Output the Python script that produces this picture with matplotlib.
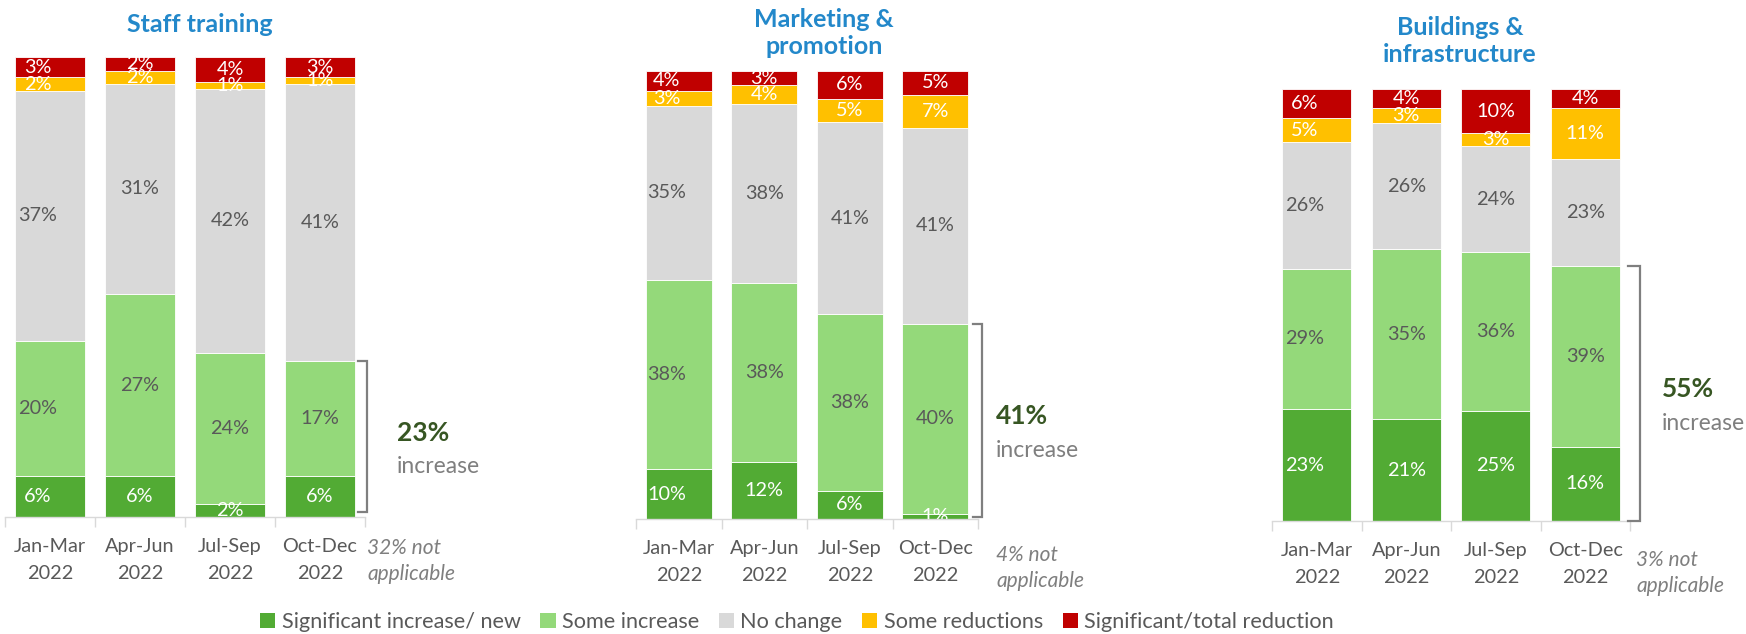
import matplotlib
matplotlib.use("Agg")
import matplotlib.pyplot as plt
from matplotlib.patches import Patch
import numpy as np

plt.rcParams['font.family'] = ['Lato', 'DejaVu Sans']

# ---- data -------------------------------------------------------------
periods = ["Jan-Mar\n2022", "Apr-Jun\n2022", "Jul-Sep\n2022", "Oct-Dec\n2022"]
categories = ["Significant increase/ new", "Some increase", "No change",
              "Some reductions", "Significant/total reduction"]
panel_titles = ["Staff training", "Marketing &\npromotion", "Buildings &\ninfrastructure"]
not_applicable = [32, 4, 3]

staff_sig_increase = [6, 6, 2, 6]
staff_some_increase = [20, 27, 24, 17]
staff_no_change = [37, 31, 42, 41]
staff_some_reduction = [2, 2, 1, 1]
staff_sig_reduction = [3, 2, 4, 3]

marketing_sig_increase = [10, 12, 6, 1]
marketing_some_increase = [38, 38, 38, 40]
marketing_no_change = [35, 38, 41, 41]
marketing_some_reduction = [3, 4, 5, 7]
marketing_sig_reduction = [4, 3, 6, 5]

buildings_sig_increase = [23, 21, 25, 16]
buildings_some_increase = [29, 35, 36, 39]
buildings_no_change = [26, 26, 24, 23]
buildings_some_reduction = [5, 3, 3, 11]
buildings_sig_reduction = [6, 4, 10, 4]

# ---- styling ----------------------------------------------------------
colors = ["#52AB34", "#94D97A", "#D9D9D9", "#FFC000", "#C00000"]
label_colors = ["white", "#595959", "#595959", "white", "white"]
title_color = "#2388CA"
text_grey = "#595959"

W, H = 1746, 634
fig = plt.figure(figsize=(W / 100, H / 100), dpi=100)


def px_axes(left, right, top, bottom):
    return fig.add_axes([left / W, 1 - bottom / H, (right - left) / W, (bottom - top) / H])


# axes frame (pixels), title centre, annotation layout per panel
frames = [(5, 365, 57, 517), (636, 978, 71, 519), (1272, 1630, 89, 521)]
title_pos = [(200, 24), (824, 33), (1460, 41)]
bracket_off = [(0.04, 0.10, 0.01), (0.06, 0.10, 0.005), (0.09, 0.14, 0.0)]
note_y = [550, 557, 562]
note_x = [367, 996, 1636]
pct_x = [397, 996, 1662]

panels = [
    [staff_sig_increase, staff_some_increase, staff_no_change,
     staff_some_reduction, staff_sig_reduction],
    [marketing_sig_increase, marketing_some_increase, marketing_no_change,
     marketing_some_reduction, marketing_sig_reduction],
    [buildings_sig_increase, buildings_some_increase, buildings_no_change,
     buildings_some_reduction, buildings_sig_reduction],
]

width = 0.77
for p, series in enumerate(panels):
    left, right, top, bottom_px = frames[p]
    ax = px_axes(left, right, top, bottom_px)
    px_per_unit = (right - left) / 4.0
    vals = np.array(series, dtype=float)
    shares = vals / vals.sum(axis=0)
    x = np.arange(len(periods))
    base = np.zeros(len(periods))
    for k in range(len(categories)):
        ax.bar(x, shares[k], width, bottom=base, color=colors[k],
               edgecolor="white", linewidth=0.6, zorder=2)
        for i in range(len(periods)):
            dx = -12 if i == 0 else 0
            t = ax.annotate(f"{int(vals[k, i])}%",
                            xy=(x[i], base[i] + shares[k, i] / 2),
                            xytext=(dx, 0), textcoords="offset pixels",
                            ha="center", va="center", fontsize=14.3,
                            color=label_colors[k], zorder=3)
            t.set_clip_on(True)
            t.set_clip_box(ax.bbox)
        base += shares[k]

    ax.set_xlim(-0.5, 3.5)
    ax.set_ylim(0, 1)
    ax.set_yticks([])
    ax.set_xticks(x)
    ax.set_xticklabels(periods, fontsize=14.3, color=text_grey, linespacing=1.7)
    ax.set_xticks(np.arange(-0.5, 4.0, 1.0), minor=True)
    ax.tick_params(axis="x", which="major", length=0, pad=15)
    ax.tick_params(axis="x", which="minor", length=7, color="#D9D9D9", width=1)
    for s in ["top", "right", "left"]:
        ax.spines[s].set_visible(False)
    ax.spines["bottom"].set_color("#D9D9D9")
    ax.spines["bottom"].set_linewidth(1)

    # bracket around the combined increase of the latest quarter
    inc_value = int(vals[0, -1] + vals[1, -1])
    inc_top = shares[0, -1] + shares[1, -1]
    o0, blen, ybot = bracket_off[p]
    x0 = 3 + width / 2 + o0
    x1 = x0 + blen
    ax.plot([x0, x1, x1, x0], [inc_top, inc_top, ybot, ybot], color="#7F7F7F",
            lw=1.6, clip_on=False, solid_joinstyle="miter", zorder=4)

    ymid = (inc_top + ybot) / 2
    xt = (pct_x[p] - left) / px_per_unit - 0.5
    ax.annotate(f"{inc_value}%", xy=(xt, ymid), xytext=(0, 4), textcoords="offset pixels",
                ha="left", va="center", fontsize=19, fontweight="bold",
                color="#375623", annotation_clip=False)
    ax.annotate("increase", xy=(xt, ymid), xytext=(0, -30), textcoords="offset pixels",
                ha="left", va="center", fontsize=16.5, color="#7F7F7F",
                annotation_clip=False)

    fig.text(note_x[p] / W, 1 - (note_y[p] - 12) / H,
             f"{not_applicable[p]}% not\napplicable", ha="left", va="top",
             fontsize=15, style="italic", color="#7F7F7F", linespacing=1.4)

    tx, ty = title_pos[p]
    fig.text(tx / W, 1 - ty / H, panel_titles[p], ha="center", va="center",
             fontsize=18, fontweight="bold", color=title_color, linespacing=1.25)

handles = [Patch(facecolor=c, edgecolor="none") for c in colors]
fig.legend(handles, categories, loc="center", bbox_to_anchor=(797 / W, 1 - 622 / H),
           ncol=5, frameon=False, fontsize=15.6, handlelength=0.7, handleheight=0.7,
           handletextpad=0.3, columnspacing=0.9, labelcolor=text_grey)

fig.savefig("out.png", dpi=100)
